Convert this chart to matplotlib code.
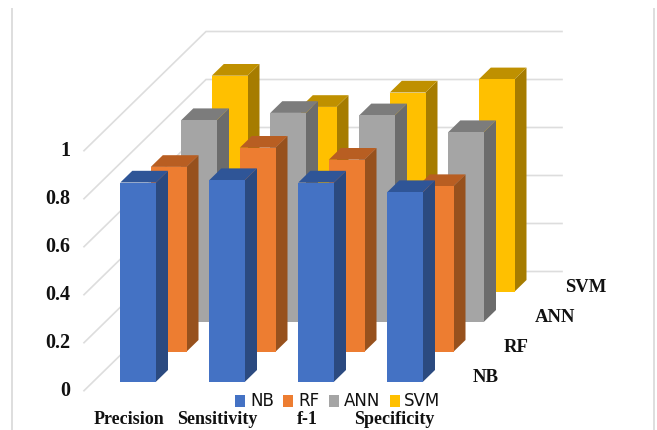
import matplotlib
matplotlib.use('Agg')
import matplotlib.pyplot as plt
from matplotlib.patches import Polygon, Rectangle

# Scores per model, one value per metric
metrics = ['Precision', 'Sensitivity', 'f-1', 'Specificity']
models = ['NB', 'RF', 'ANN', 'SVM']
nb_scores = [0.83, 0.84, 0.83, 0.79]
rf_scores = [0.77, 0.85, 0.80, 0.69]
ann_scores = [0.84, 0.87, 0.86, 0.79]
svm_scores = [0.90, 0.77, 0.83, 0.885]
y_ticks = [0, 0.2, 0.4, 0.6, 0.8, 1]

scores = [nb_scores, rf_scores, ann_scores, svm_scores]

# front face, top face, side face
shades = [('#4472C4', '#2F5597', '#2B4A80'),
          ('#ED7D31', '#B85E22', '#97511D'),
          ('#A5A5A5', '#7C7C7C', '#6C6C6C'),
          ('#FFC000', '#BF9000', '#A67C00')]
legend_cols = ['#4472C4', '#ED7D31', '#A5A5A5', '#FFC000']

# oblique projection, all in figure pixels
UNIT = 240.0
X0, Y0 = 120.3, 381.7
CAT_STEP = 89.0
DEPTH_DX, DEPTH_DY = 30.5, -30.0
BAR_W = 35.7
BAR_DX, BAR_DY = 12.0, -11.7
WALL_X0, WALL_Y0 = 84.0, 390.7
WALL_X1, WALL_Y1 = 206.0, 271.5
WALL_END = 562.0

fig = plt.figure(figsize=(6.57, 4.30), dpi=100)
ax = fig.add_axes([0, 0, 1, 1])
ax.set_xlim(0, 657)
ax.set_ylim(430, 0)
ax.axis('off')

# gridlines on the left and back walls
for t in y_ticks:
    ax.plot([WALL_X0, WALL_X1, WALL_END],
            [WALL_Y0 - t * UNIT, WALL_Y1 - t * UNIT, WALL_Y1 - t * UNIT],
            color='#DDDDDD', lw=1.2, zorder=1, solid_joinstyle='miter')
    ax.text(70, WALL_Y0 - t * UNIT + 0.5, f'{t:g}', ha='right', va='center',
            family='Liberation Serif', weight='bold', fontsize=14.5, color='#111111')


def draw_bar(x, base, h, cols):
    top = base - h * UNIT
    front, roof, side = cols
    ax.add_patch(Polygon([(x + BAR_W, base), (x + BAR_W + BAR_DX, base + BAR_DY),
                          (x + BAR_W + BAR_DX, top + BAR_DY), (x + BAR_W, top)],
                         fc=side, ec='none', zorder=2))
    ax.add_patch(Polygon([(x, top), (x + BAR_W, top),
                          (x + BAR_W + BAR_DX, top + BAR_DY), (x + BAR_DX, top + BAR_DY)],
                         fc=roof, ec='none', zorder=2))
    ax.add_patch(Rectangle((x, top), BAR_W, h * UNIT, fc=front, ec='none', zorder=2))


# back row first so nearer bars cover it
for d in range(len(models) - 1, -1, -1):
    for c in range(len(metrics)):
        draw_bar(X0 + c * CAT_STEP + d * DEPTH_DX, Y0 + d * DEPTH_DY,
                 scores[d][c], shades[d])

# category names along the front edge
for name, x in zip(metrics, [129.5, 217, 307, 394]):
    ax.text(x, 419.5, name, ha='center', va='center', family='Liberation Serif',
            weight='bold', fontsize=13, color='#111111')

# model names along the depth axis
for name, x, y in zip(models, [473, 504, 535, 565], [377.5, 347.5, 317.5, 287.5]):
    ax.text(x, y, name, ha='left', va='center', family='Liberation Serif',
            weight='bold', fontsize=13.5, color='#111111')

# legend
for name, col, sx, tx in zip(models, legend_cols, [234.7, 283.3, 329, 390], [250, 298, 344, 404]):
    ax.add_patch(Rectangle((sx, 394.7), 10, 12, fc=col, ec='none', zorder=3))
    ax.text(tx, 401, name, ha='left', va='center', family='Liberation Sans Narrow',
            fontsize=12, color='#111111', zorder=3)

# thin rules down both sides of the sheet
for x in [11, 652.7]:
    ax.add_patch(Rectangle((x, 8), 2.3, 422, fc='#DEDEDE', ec='none'))

fig.savefig('out.png', dpi=100)
